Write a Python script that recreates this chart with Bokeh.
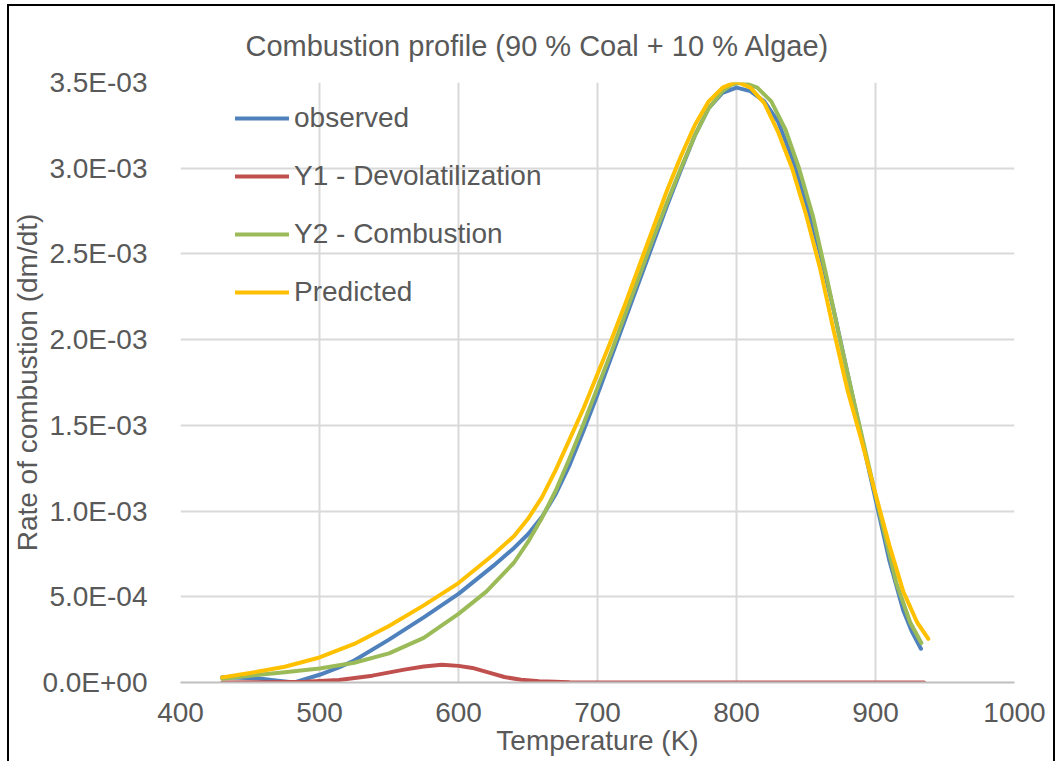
from bokeh.plotting import figure
from bokeh.models import (Legend, LegendItem, FixedTicker, CustomJSTickFormatter, Range1d)
from bokeh.embed import file_html
from bokeh.resources import INLINE

# ---- data ----
obs_T = [430, 455, 470, 482, 500, 514, 525, 550, 575, 600, 625, 640, 650, 660, 670, 680,
         690, 700, 710, 720, 730, 740, 750, 760, 770, 780, 790, 800, 810, 820, 830, 840,
         850, 860, 870, 880, 890, 900, 910, 920, 926, 932.7]
obs_v = [3.0e-5, 2.5e-5, 1.0e-5, 0.0, 4.5e-5, 8.8e-5, 1.28e-4, 2.5e-4, 3.8e-4, 5.17e-4,
         6.8e-4, 7.85e-4, 8.65e-4, 9.65e-4, 1.10e-3, 1.27e-3, 1.47e-3, 1.68e-3, 1.90e-3,
         2.12e-3, 2.34e-3, 2.56e-3, 2.78e-3, 2.99e-3, 3.19e-3, 3.35e-3, 3.44e-3, 3.47e-3,
         3.45e-3, 3.39e-3, 3.27e-3, 3.06e-3, 2.80e-3, 2.51e-3, 2.17e-3, 1.80e-3, 1.43e-3,
         1.07e-3, 7.1e-4, 4.2e-4, 3.0e-4, 1.97e-4]

y1_T = [430, 460, 490, 514, 538, 561, 575, 588, 600, 610, 622, 633, 645, 658, 680, 700, 935]
y1_v = [0.0, 1.0e-6, 5.0e-6, 1.5e-5, 4.0e-5, 7.5e-5, 9.3e-5, 1.03e-4, 9.7e-5, 8.5e-5,
        5.8e-5, 3.2e-5, 1.6e-5, 7.0e-6, 1.0e-6, 0.0, 0.0]

y2_T = [430, 450, 475, 500, 525, 550, 575, 600, 620, 640, 650, 660, 670, 680, 690, 700,
        710, 720, 730, 740, 750, 760, 770, 780, 790, 797, 805, 815, 825, 835, 845, 855,
        865, 875, 885, 895, 905, 915, 925, 933]
y2_v = [2.2e-5, 4.0e-5, 6.0e-5, 8.2e-5, 1.15e-4, 1.70e-4, 2.6e-4, 4.0e-4, 5.3e-4, 7.0e-4,
        8.2e-4, 9.6e-4, 1.12e-3, 1.31e-3, 1.51e-3, 1.72e-3, 1.93e-3, 2.15e-3, 2.37e-3,
        2.59e-3, 2.80e-3, 3.00e-3, 3.19e-3, 3.35e-3, 3.45e-3, 3.49e-3, 3.50e-3, 3.47e-3,
        3.39e-3, 3.23e-3, 3.00e-3, 2.72e-3, 2.36e-3, 1.98e-3, 1.62e-3, 1.27e-3, 9.2e-4,
        5.8e-4, 3.5e-4, 2.3e-4]

pred_T = [430, 450, 475, 500, 525, 550, 575, 600, 625, 640, 650, 660, 670, 680, 690, 700,
          710, 720, 730, 740, 750, 760, 770, 780, 790, 800, 810, 820, 830, 840, 850, 860,
          870, 880, 890, 900, 910, 920, 930, 938]
pred_v = [3.0e-5, 5.5e-5, 9.2e-5, 1.46e-4, 2.25e-4, 3.3e-4, 4.5e-4, 5.8e-4, 7.45e-4, 8.55e-4,
          9.55e-4, 1.08e-3, 1.24e-3, 1.42e-3, 1.60e-3, 1.80e-3, 2.00e-3, 2.21e-3, 2.43e-3,
          2.65e-3, 2.87e-3, 3.07e-3, 3.25e-3, 3.39e-3, 3.47e-3, 3.505e-3, 3.47e-3, 3.38e-3,
          3.21e-3, 3.00e-3, 2.73e-3, 2.42e-3, 2.05e-3, 1.70e-3, 1.41e-3, 1.10e-3, 8.0e-4,
          5.3e-4, 3.5e-4, 2.55e-4]

x_ticks = [400, 500, 600, 700, 800, 900, 1000]
y_ticks = [0.0, 5.0e-4, 1.0e-3, 1.5e-3, 2.0e-3, 2.5e-3, 3.0e-3, 3.5e-3]

series_names = ["observed", "Y1 - Devolatilization", "Y2 - Combustion", "Predicted"]
colors = ["#4f81bd", "#c0504d", "#9bbb59", "#ffc000"]

TXT = "#595959"
FONT = "Liberation Sans"

p = figure(width=1044, height=755, output_backend="svg", toolbar_location=None,
           x_range=Range1d(400, 1000), y_range=Range1d(0, 3.5e-3),
           min_border_left=171, min_border_right=39, min_border_top=76,
           min_border_bottom=79, background_fill_color="white",
           border_fill_color="white")
p.margin = (6, 0, 0, 9)
p.styles = {"box-shadow": "0 0 0 2px #000000"}
p.outline_line_color = None

p.title.text = "Combustion profile (90 % Coal + 10 % Algae)"
p.title.align = "left"
p.title.offset = 65
p.title.standoff = 42
p.title.text_font = FONT
p.title.text_font_size = "29px"
p.title.text_font_style = "normal"
p.title.text_color = TXT

rs = []
for T, v, c in zip([obs_T, y1_T, y2_T, pred_T], [obs_v, y1_v, y2_v, pred_v], colors):
    rs.append(p.line(T, v, line_color=c, line_width=4, line_join="round", line_cap="round"))

# axes
p.xaxis.ticker = FixedTicker(ticks=x_ticks)
p.yaxis.ticker = FixedTicker(ticks=y_ticks)
p.yaxis.formatter = CustomJSTickFormatter(code="""
const s = tick.toExponential(1).toUpperCase();
const parts = s.split("E");
const e = parts[1];
const sign = e[0];
const d = e.slice(1).padStart(2, "0");
return parts[0] + "E" + sign + d;
""")
for ax in (p.xaxis[0], p.yaxis[0]):
    ax.major_tick_line_color = None
    ax.minor_tick_line_color = None
    ax.major_label_text_font = FONT
    ax.major_label_text_font_size = "28px"
    ax.major_label_text_color = TXT
    ax.axis_label_text_font = FONT
    ax.axis_label_text_font_size = "28px"
    ax.axis_label_text_font_style = "normal"
    ax.axis_label_text_color = TXT

p.xaxis.axis_label = "Temperature (K)"
p.yaxis.axis_label = "Rate of combustion (dm/dt)"
p.xaxis.axis_line_color = "#bfbfbf"
p.xaxis.axis_line_width = 2
p.yaxis.axis_line_color = None
p.xaxis.major_label_standoff = 14
p.xaxis.axis_label_standoff = 0
p.yaxis.major_label_standoff = 27
p.yaxis.axis_label_standoff = -4

p.xgrid.grid_line_color = "#d9d9d9"
p.ygrid.grid_line_color = "#d9d9d9"
p.xgrid.grid_line_width = 2
p.ygrid.grid_line_width = 2

legend = Legend(items=[LegendItem(label=n, renderers=[r]) for n, r in zip(series_names, rs)],
                location=(55, 373), orientation="vertical",
                glyph_width=54, glyph_height=34, label_height=34, spacing=24,
                padding=6, margin=0, label_standoff=5,
                label_text_font=FONT, label_text_font_size="28px", label_text_color=TXT,
                border_line_color=None, background_fill_alpha=0)
p.add_layout(legend)

open("out.html", "w").write(file_html(p, INLINE))
